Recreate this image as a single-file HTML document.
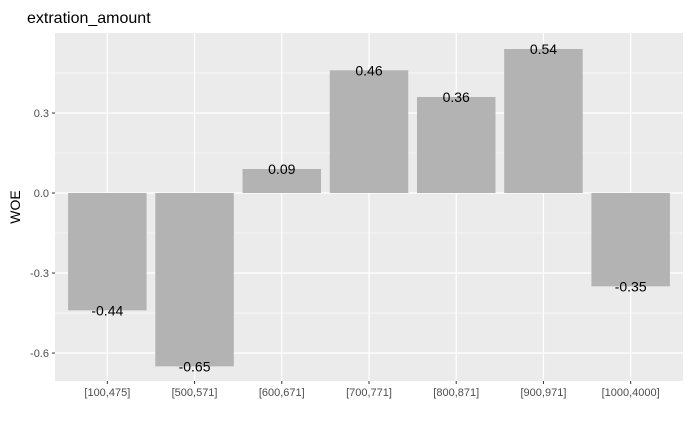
<!DOCTYPE html>
<html><head><meta charset="utf-8"><style>
body{margin:0;background:#fff;}
svg{display:block;font-family:"Liberation Sans",Arial,sans-serif;}
</style></head><body>
<svg id="chart" width="690" height="426"></svg>
<script>
const categories=["[100,475]","[500,571]","[600,671]","[700,771]","[800,871]","[900,971]","[1000,4000]"];
const woeValues=[-0.44,-0.65,0.09,0.46,0.36,0.54,-0.35];
const valueLabels=["-0.44","-0.65","0.09","0.46","0.36","0.54","-0.35"];
const yTicks=[-0.6,-0.3,0.0,0.3];
const yTickLabels=["-0.6","-0.3","0.0","0.3"];
const yMinor=[-0.45,-0.15,0.15,0.45];

const NS="http://www.w3.org/2000/svg";
const svg=document.getElementById('chart');
const L=55,R=683,T=33,B=381;
const step=(R-L)/(categories.length+0.2);
const xc=i=>L+step*(0.6+i);
const y=v=>193-v*266.7;
function mk(t,a,p){const e=document.createElementNS(NS,t);for(const k in a)e.setAttribute(k,a[k]);(p||svg).appendChild(e);return e;}

const bg=mk('rect',{x:L,y:T,width:R-L,height:B-T,fill:'#ebebeb'});


yMinor.forEach(v=>{const l=mk('line',{x1:L,x2:R,y1:y(v),y2:y(v),stroke:'#fff','stroke-width':0.6});

});
yTicks.forEach((v,i)=>{const l=mk('line',{x1:L,x2:R,y1:y(v),y2:y(v),stroke:'#fff','stroke-width':1.2});


const tk=mk('line',{x1:L-3,x2:L,y1:y(v),y2:y(v),stroke:'#333','stroke-width':1});


const t=mk('text',{x:L-6,y:y(v)+4,'text-anchor':'end','font-size':11,fill:'#4d4d4d'});t.textContent=yTickLabels[i];

});
categories.forEach((c,i)=>{const l=mk('line',{x1:xc(i),x2:xc(i),y1:T,y2:B,stroke:'#fff','stroke-width':1.2});

});
categories.forEach((c,i)=>{const v=woeValues[i];const w=step*0.9;
const r=mk('rect',{x:xc(i)-w/2,y:Math.min(y(v),y(0)),width:w,height:Math.abs(y(v)-y(0)),fill:'#b3b3b3'});


const t=mk('text',{x:xc(i),y:y(v)+5,'text-anchor':'middle','font-size':14,fill:'#000'});t.textContent=valueLabels[i];


const tk=mk('line',{x1:xc(i),x2:xc(i),y1:B,y2:B+3,stroke:'#333','stroke-width':1});


const xl=mk('text',{x:xc(i),y:B+15,'text-anchor':'middle','font-size':11,fill:'#4d4d4d'});xl.textContent=c;

});
const ti=mk('text',{x:27,y:23,'font-size':16,fill:'#000'});ti.textContent='extration_amount';


const yl=mk('text',{x:0,y:0,'font-size':14,fill:'#000','text-anchor':'middle',transform:'translate(20,207) rotate(-90)'});yl.textContent='WOE';


</script>
</body></html>
